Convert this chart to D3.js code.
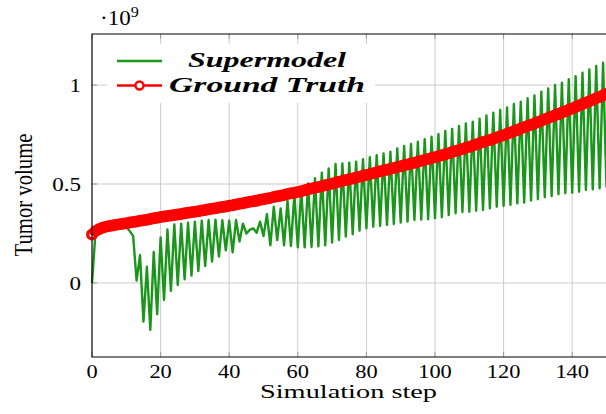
<!DOCTYPE html>
<html><head><meta charset="utf-8">
<script src="https://cdn.jsdelivr.net/npm/d3@7"></script>
<style>html,body{margin:0;padding:0;background:#fff;overflow:hidden}</style>
</head><body>
<svg id="chart" width="606" height="414"></svg>
<script>
const steps = d3.range(0, 151);
const supermodel = [
 0, 0.25, 0.268, 0.277, 0.282, 0.286, 0.289, 0.292, 0.294, 0.296,
 0.284, 0.262, 0.237, 0.012, 0.141, -0.195, 0.082, -0.237, 0.157, -0.158,
 0.23, -0.086, 0.27, -0.04, 0.296, -0.01, 0.30, 0.018, 0.305, 0.037,
 0.31, 0.06, 0.315, 0.086, 0.318, 0.108, 0.32, 0.133, 0.317, 0.165,
 0.315, 0.155, 0.318, 0.21, 0.30, 0.25, 0.268, 0.276, 0.254, 0.31,
 0.237, 0.348, 0.19, 0.385, 0.217, 0.377, 0.19, 0.416, 0.187, 0.448,
 0.18, 0.473, 0.18, 0.503, 0.182, 0.529, 0.185, 0.557, 0.19, 0.579,
 0.204, 0.601, 0.217, 0.604, 0.234, 0.608, 0.246, 0.613, 0.264, 0.625,
 0.276, 0.635, 0.284, 0.646, 0.288, 0.655, 0.293, 0.663, 0.298, 0.68,
 0.305, 0.692, 0.31, 0.702, 0.318, 0.714, 0.32, 0.727, 0.322, 0.739,
 0.327, 0.753, 0.332, 0.768, 0.343, 0.778, 0.352, 0.793, 0.359, 0.806,
 0.36, 0.815, 0.365, 0.83, 0.369, 0.847, 0.377, 0.86, 0.385, 0.874,
 0.389, 0.887, 0.394, 0.904, 0.402, 0.916, 0.406, 0.933, 0.416, 0.948,
 0.423, 0.966, 0.433, 0.983, 0.439, 1.0, 0.448, 1.012, 0.453, 1.029,
 0.456, 1.045, 0.461, 1.062, 0.47, 1.079, 0.473, 1.096, 0.478, 1.113,
 0.482
];
const groundTruth = [
 0.245, 0.262, 0.272, 0.279, 0.284, 0.288, 0.291, 0.294, 0.297, 0.299,
 0.302, 0.305, 0.308, 0.311, 0.314, 0.317, 0.320, 0.323, 0.327, 0.330,
 0.333, 0.336, 0.338, 0.341, 0.344, 0.346, 0.349, 0.352, 0.355, 0.357,
 0.360, 0.363, 0.366, 0.369, 0.372, 0.375, 0.378, 0.381, 0.384, 0.387,
 0.390, 0.393, 0.397, 0.400, 0.403, 0.407, 0.410, 0.413, 0.416, 0.420,
 0.423, 0.427, 0.430, 0.434, 0.438, 0.441, 0.445, 0.449, 0.453, 0.456,
 0.460, 0.464, 0.468, 0.473, 0.477, 0.481, 0.485, 0.489, 0.494, 0.498,
 0.502, 0.506, 0.511, 0.515, 0.520, 0.524, 0.528, 0.533, 0.537, 0.542,
 0.546, 0.550, 0.555, 0.559, 0.564, 0.568, 0.572, 0.577, 0.581, 0.586,
 0.590, 0.595, 0.599, 0.604, 0.608, 0.613, 0.617, 0.622, 0.626, 0.631,
 0.635, 0.640, 0.646, 0.651, 0.656, 0.662, 0.667, 0.672, 0.677, 0.683,
 0.688, 0.694, 0.700, 0.706, 0.712, 0.718, 0.723, 0.729, 0.735, 0.741,
 0.747, 0.754, 0.760, 0.767, 0.773, 0.780, 0.787, 0.793, 0.800, 0.806,
 0.813, 0.820, 0.827, 0.834, 0.841, 0.848, 0.854, 0.861, 0.868, 0.875,
 0.882, 0.889, 0.897, 0.904, 0.911, 0.918, 0.926, 0.933, 0.940, 0.948,
 0.955
];
const xTickValues = [0, 20, 40, 60, 80, 100, 120, 140];
const yTickValues = [0, 0.5, 1];
const yTickLabels = ["0", "0.5", "1"];
const seriesNames = ["Supermodel", "Ground Truth"];
const seriesColors = ["#1a961a", "#ff0000"];

const svg = d3.select("#chart");
const L = 92, T = 34, B = 357;
const x = d3.scaleLinear().domain([0, 151]).range([L, L + 151 * 3.43]);
const y = d3.scaleLinear().domain([-0.374, 1.258]).range([B, T]);
const R = x.range()[1];
const serif = "'Liberation Serif', 'Times New Roman', serif";

// grid
const grid = svg.append("g");
grid.selectAll("line.vx").data(xTickValues).join("line")
  .attr("x1", d => x(d)).attr("x2", d => x(d)).attr("y1", T).attr("y2", B)
  .attr("stroke", "#cccccc").attr("stroke-width", 1);
grid.selectAll("line.hy").data(yTickValues).join("line")
  .attr("x1", L).attr("x2", R).attr("y1", d => y(d)).attr("y2", d => y(d))
  .attr("stroke", "#cccccc").attr("stroke-width", 1);
// tick marks (inside)
const tk = svg.append("g").attr("stroke", "#9a9a9a").attr("stroke-width", 1);
xTickValues.forEach(v => {
  tk.append("line").attr("x1", x(v)).attr("x2", x(v)).attr("y1", T).attr("y2", T + 5);
  tk.append("line").attr("x1", x(v)).attr("x2", x(v)).attr("y1", B).attr("y2", B - 5);
});
yTickValues.forEach(v => {
  tk.append("line").attr("x1", L).attr("x2", L + 5).attr("y1", y(v)).attr("y2", y(v));
});

// legend background
svg.append("rect").attr("x", 107).attr("y", 44).attr("width", 268).attr("height", 59).attr("fill", "#fff");

// series
const line = (arr) => d3.line().x((d, i) => x(steps[i])).y(d => y(d))(arr);
svg.append("path").attr("d", line(supermodel)).attr("fill", "none")
  .attr("stroke", seriesColors[0]).attr("stroke-width", 2.4).attr("stroke-linejoin", "round");
svg.append("path").attr("d", line(groundTruth)).attr("fill", "none")
  .attr("stroke", seriesColors[1]).attr("stroke-width", 3);
svg.append("g").selectAll("circle").data(groundTruth).join("circle")
  .attr("cx", (d, i) => x(steps[i])).attr("cy", d => y(d)).attr("r", 4.3)
  .attr("fill", "none").attr("stroke", seriesColors[1]).attr("stroke-width", 3.4);

// frame
svg.append("path").attr("d", `M${R},${T}H${L}V${B}H${R}`).attr("fill", "none")
  .attr("stroke", "#000").attr("stroke-width", 1.1);

// tick labels
xTickValues.forEach(v => {
  svg.append("text").attr("transform", `translate(${x(v)},377.5) scale(1.18,1)`)
    .attr("text-anchor", "middle").attr("font-family", serif).attr("font-size", 19)
    .attr("fill", "#000").text(String(v));
});
yTickValues.forEach((v, i) => {
  svg.append("text").attr("transform", `translate(81,${y(v) + 7}) scale(1.18,1)`)
    .attr("text-anchor", "end").attr("font-family", serif).attr("font-size", 19.5)
    .attr("fill", "#000").text(yTickLabels[i]);
});
// exponent
const ex = svg.append("text").attr("transform", "translate(100,25) scale(1.15,1)")
  .attr("font-family", serif).attr("font-size", 20).attr("fill", "#000");
ex.append("tspan").text("·10");
ex.append("tspan").attr("font-size", 14).attr("dy", -8).text("9");

// axis titles
svg.append("text").attr("x", 348.5).attr("y", 398).attr("text-anchor", "middle")
  .attr("font-family", serif).attr("font-size", 18).attr("textLength", 177)
  .attr("lengthAdjust", "spacingAndGlyphs").text("Simulation step");
svg.append("text").attr("transform", "translate(31.5,195) rotate(-90)").attr("text-anchor", "middle")
  .attr("font-family", serif).attr("font-size", 25).attr("textLength", 123)
  .attr("lengthAdjust", "spacingAndGlyphs").text("Tumor volume");

// legend
const lg = svg.append("g");
lg.append("line").attr("x1", 117).attr("x2", 162).attr("y1", 61).attr("y2", 61)
  .attr("stroke", seriesColors[0]).attr("stroke-width", 2.4);
lg.append("line").attr("x1", 117).attr("x2", 162).attr("y1", 85.5).attr("y2", 85.5)
  .attr("stroke", seriesColors[1]).attr("stroke-width", 2.5);
lg.append("circle").attr("cx", 139.5).attr("cy", 85.5).attr("r", 4)
  .attr("fill", "#fff").attr("stroke", seriesColors[1]).attr("stroke-width", 2.4);
const legendText = [{t: seriesNames[0], y: 66.7, w: 158}, {t: seriesNames[1], y: 91.5, w: 196}];
legendText.forEach(d => {
  lg.append("text").attr("x", 267).attr("y", d.y).attr("text-anchor", "middle")
    .attr("font-family", serif).attr("font-size", 21).attr("font-weight", "bold")
    .attr("font-style", "italic").attr("textLength", d.w).attr("lengthAdjust", "spacingAndGlyphs")
    .text(d.t);
});
</script>
</body></html>
